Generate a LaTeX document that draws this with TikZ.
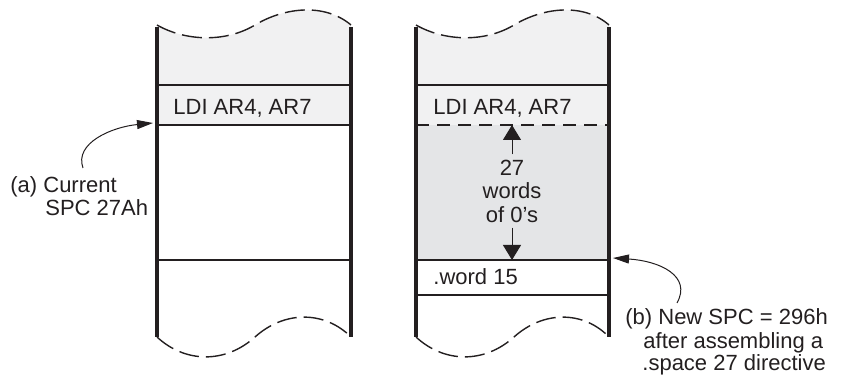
\documentclass[tikz,border=0pt]{standalone}
\usepackage{fontspec}
\setmainfont{Liberation Sans}
\usetikzlibrary{arrows.meta}
\definecolor{lightfill}{HTML}{F1F1F2}
\definecolor{midfill}{HTML}{E4E5E7}
\definecolor{ink}{HTML}{231F20}
\tikzset{
  wall/.style={draw=ink, line width=1.6pt},
  rowline/.style={draw=ink, line width=1pt},
  rowdash/.style={draw=ink, line width=0.6pt, dash pattern=on 6.5pt off 4pt},
  wave/.style={draw=ink, line width=0.7pt, dash pattern=on 10pt off 3.5pt},
  txt/.style={font=\fontsize{11}{11.75}\selectfont, text=ink, inner sep=0pt, anchor=base west},
  callout/.style={draw=ink, line width=0.5pt, -{Triangle[length=8pt,width=4.5pt]}},
  bigtip/.style={draw=ink, line width=0.5pt, -{Triangle[length=7.5pt,width=9pt]}}
}
\begin{document}
\begin{tikzpicture}[x=0.5pt,y=-0.5pt]
\useasboundingbox (0,0) rectangle (842,379);
% ---------- left column ----------
\fill[lightfill] (157,25) .. controls (185,41) and (225,43) .. (255,25)
  .. controls (285,7) and (325,3) .. (351,25) -- (351,125) -- (157,125) -- cycle;
\draw[wave] (157,25) .. controls (185,41) and (225,43) .. (255,25)
  .. controls (285,7) and (325,3) .. (351,25);
\draw[wave] (157,337) .. controls (185,363) and (225,364) .. (255,337)
  .. controls (285,310) and (325,311) .. (351,337);
\draw[rowline] (157,85) -- (351,85);
\draw[rowline, line width=0.6pt] (157,125) -- (351,125);
\draw[rowline] (157,260) -- (351,260);
\draw[wall] (157,27) -- (157,337);
\draw[wall] (351,27) -- (351,337);
\node[txt] (ldiA) at (173,115) {LDI AR4, AR7};
% ---------- right column ----------
\fill[lightfill] (416,25) .. controls (444,41) and (484,43) .. (514,25)
  .. controls (544,7) and (584,3) .. (609,25) -- (609,125) -- (416,125) -- cycle;
\fill[midfill] (416,125) rectangle (609,260);
\draw[wave] (416,25) .. controls (444,41) and (484,43) .. (514,25)
  .. controls (544,7) and (584,3) .. (609,25);
\draw[wave] (416,337) .. controls (444,363) and (484,364) .. (514,337)
  .. controls (544,310) and (584,311) .. (609,337);
\draw[rowline] (416,85) -- (609,85);
\draw[rowdash] (416,125) -- (609,125);
\draw[rowline] (416,260) -- (609,260);
\draw[rowline] (416,295) -- (609,295);
\draw[wall] (416,27) -- (416,337);
\draw[wall] (609,27) -- (609,337);
\node[txt] (ldiB) at (433,115) {LDI AR4, AR7};
\node[txt] (word) at (433,285) {.word 15};
\node[font=\fontsize{11}{11.75}\selectfont, text=ink, align=center, inner xsep=0pt, inner ysep=2.5pt]
  (zeros) at (512,191) {27\\words\\of 0’s};
\coordinate (upTip) at (512,125);
\coordinate (downTip) at (512,260);
\draw[bigtip] (zeros.north) -- (upTip);
\draw[bigtip] (zeros.south) -- (downTip);
% ---------- callouts ----------
\node[txt] (a1) at (10,193) {(a) Current};
\node[txt] (a2) at (45,216) {SPC 27Ah};
\coordinate (aStart) at (83,168);
\coordinate (aTip) at (153,123);
\draw[callout] (aStart) .. controls (74,143) and (112,127) .. (aTip);
\node[txt] (b1) at (625,325) {(b) New SPC = 296h};
\node[txt] (b2) at (643,349) {after assembling a};
\node[txt] (b3) at (642,371) {.space 27 directive};
\coordinate (bStart) at (677,303);
\coordinate (bTip) at (613,258);
\draw[callout] (bStart) .. controls (692,276) and (660,261) .. (bTip);
\end{tikzpicture}
\end{document}
